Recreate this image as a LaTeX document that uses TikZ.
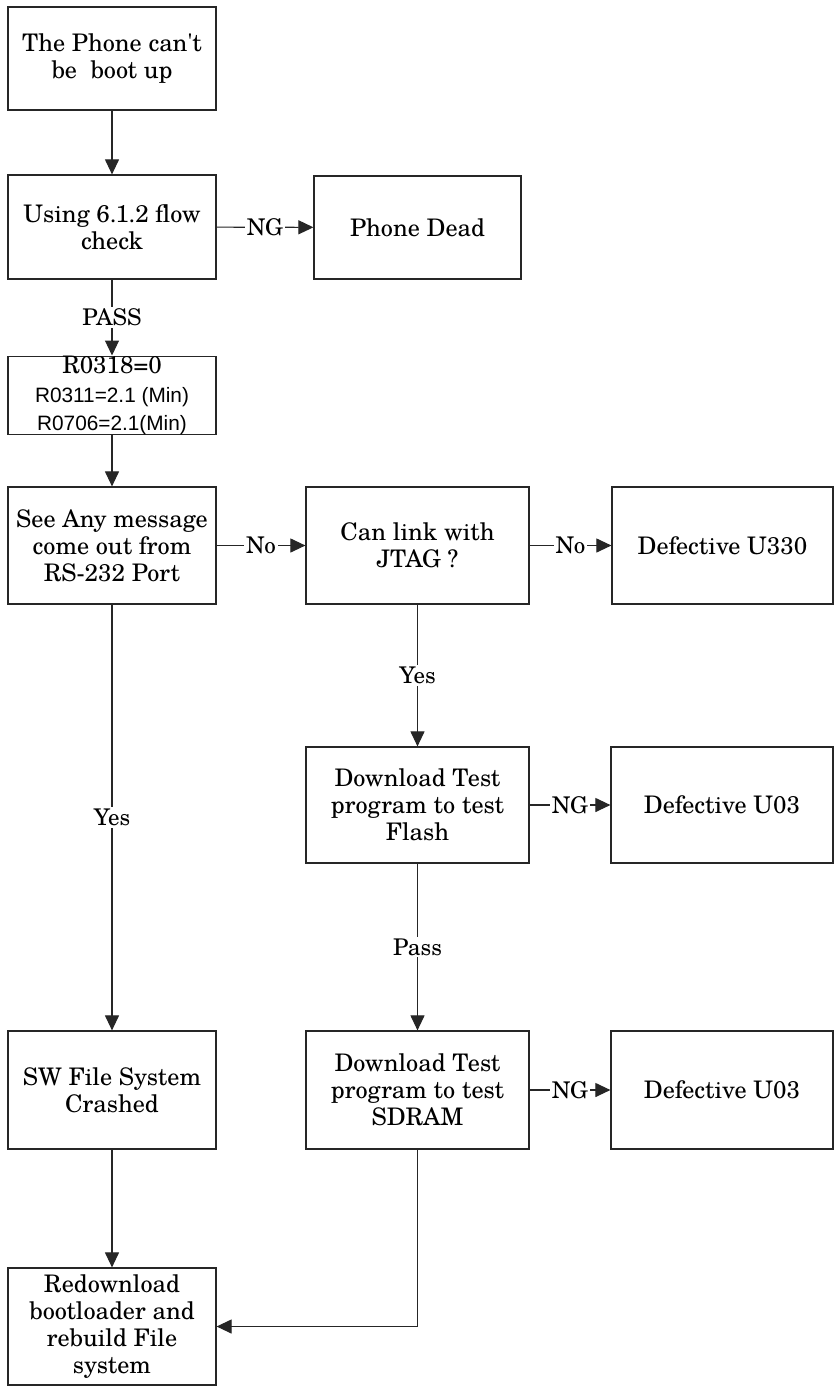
\documentclass[tikz,border=0pt]{standalone}
\usepackage{fontspec}
\setmainfont{TeX Gyre Schola}[Ligatures=TeXOff]
\newfontfamily\arialfont{Liberation Sans}
\usetikzlibrary{arrows.meta}
\begin{document}
\begin{tikzpicture}[x=1pt,y=-1pt,
  every node/.style={font=\fontsize{24.2}{27}\selectfont},
  box/.style={draw=black!85, line width=1.2pt, fill=white, inner sep=0pt,
    align=center, anchor=center},
  lbl/.style={fill=white, inner sep=2pt, font=\fontsize{23}{26}\selectfont},
  conn/.style={draw=black!85, line width=1.1pt,
    -{Triangle[length=15pt,width=14pt]}}
]
\useasboundingbox (0,0) rectangle (834,1394);
\fill[white] (0,0) rectangle (834,1394);

% left column
\node[box, minimum width=208pt, minimum height=103pt] (start) at (112,58.5)
  {The Phone can't\\be\ \ boot up};
\node[box, minimum width=208pt, minimum height=104pt] (flow) at (112,227)
  {Using 6.1.2 flow\\check};
\node[box, minimum width=207pt, minimum height=103pt] (dead) at (417.5,227.5)
  {Phone Dead};
\node[box, minimum width=208pt, minimum height=77pt, font=\fontsize{24.2}{28.5}\selectfont]
  (volt) at (112,395.5)
  {R0318=0\\{\arialfont\fontsize{20.8}{28.5}\selectfont R0311=2.1 (Min)}\\
   {\arialfont\fontsize{20.8}{28.5}\selectfont R0706=2.1(Min)}};
\node[box, minimum width=208pt, minimum height=117pt] (rs) at (112,545.5)
  {See Any message\\come out from\\RS-232 Port};
\node[box, minimum width=208pt, minimum height=118pt] (sw) at (112,1090)
  {SW File System\\Crashed};
\node[box, minimum width=208pt, minimum height=117pt] (redl) at (112,1326.5)
  {Redownload\\bootloader and\\rebuild File\\system};

% middle column
\node[box, minimum width=223pt, minimum height=117pt] (jtag) at (417.5,545.5)
  {Can link with\\JTAG ?};
\node[box, minimum width=223pt, minimum height=116pt] (flash) at (417.5,805)
  {Download Test\\program to test\\Flash};
\node[box, minimum width=223pt, minimum height=118pt] (sdram) at (417.5,1090)
  {Download Test\\program to test\\SDRAM};

% right column
\node[box, minimum width=221pt, minimum height=117pt] (u330) at (722.5,545.5)
  {Defective U330};
\node[box, minimum width=222pt, minimum height=116pt] (u03a) at (722,805)
  {Defective U03};
\node[box, minimum width=222pt, minimum height=118pt] (u03b) at (722,1090)
  {Defective U03};

% connectors
\draw[conn] (start) -- (flow);
\draw[conn] (flow) -- node[lbl] {NG} (dead);
\draw[conn] (flow) -- node[lbl] {PASS} (volt);
\draw[conn] (volt) -- (rs);
\draw[conn] (rs) -- node[lbl] {No} (jtag);
\draw[conn] (jtag) -- node[lbl] {No} (u330);
\draw[conn] (jtag) -- node[lbl] {Yes} (flash);
\draw[conn] (flash) -- node[lbl] {NG} (u03a);
\draw[conn] (flash) -- node[lbl] {Pass} (sdram);
\draw[conn] (sdram) -- node[lbl] {NG} (u03b);
\draw[conn] (rs) -- node[lbl] {Yes} (sw);
\draw[conn] (sw) -- (redl);
\draw[conn] (sdram.south) |- (redl.east);
\end{tikzpicture}
\end{document}
